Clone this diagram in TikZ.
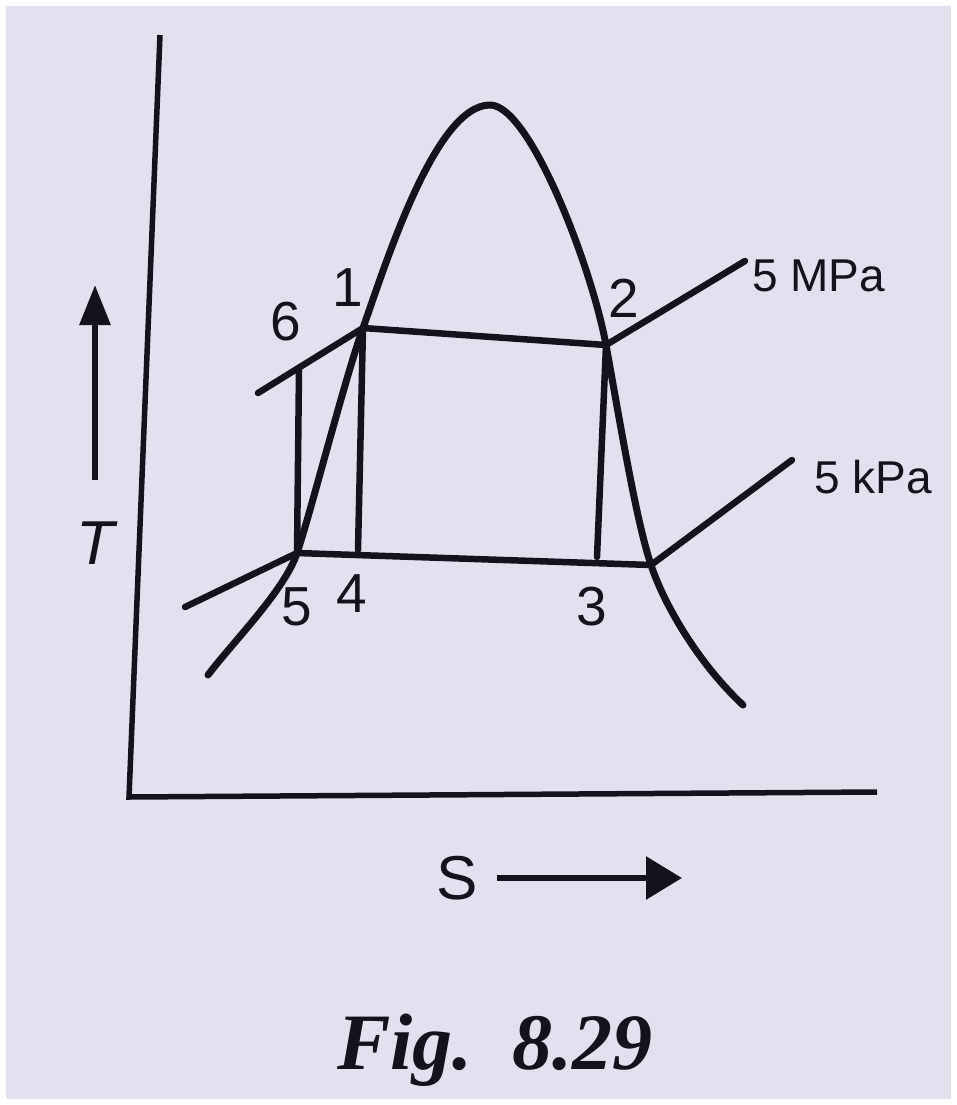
\documentclass[tikz,border=0pt]{standalone}
\usepackage{fontspec}
\setmainfont{Liberation Sans}
\newfontfamily\figfont{Liberation Serif}
\usetikzlibrary{arrows.meta}
\definecolor{paper}{RGB}{228,225,238}
\definecolor{ink}{RGB}{22,18,28}
\begin{document}
\begin{tikzpicture}[x=1pt,y=-1pt,line join=round,line cap=round,
  curve/.style={ink,line width=7pt},
  axisline/.style={ink,line width=5.5pt,line cap=butt},
  proc/.style={ink,line width=6.5pt},
  num/.style={ink,inner sep=0pt,font=\fontsize{55}{55}\selectfont},
  plbl/.style={ink,inner sep=0pt,anchor=west,font=\fontsize{46}{46}\selectfont},
  axlbl/.style={ink,inner sep=0pt,font=\fontsize{62}{62}\selectfont},
  dirarrow/.style={ink,line width=6pt,line cap=butt}]
\useasboundingbox (0,0) rectangle (957,1105);
\fill[white] (0,0) rectangle (957,1105);
\fill[paper] (6,6) rectangle (951,1099);
% axes
\coordinate (ytop) at (160,35);
\coordinate (orig) at (129,797);
\coordinate (xend) at (877,792);
\draw[axisline,line join=miter] (ytop) -- (orig) -- (xend);
% state points
\coordinate (p1) at (363,328);
\coordinate (p2) at (606,345);
\coordinate (p3) at (597,557);
\coordinate (p4) at (358,550);
\coordinate (p5) at (297,553);
\coordinate (p6) at (299,370);
\coordinate (hpL) at (258,393);
\coordinate (lpR) at (651,565);
\coordinate (lpL) at (185,607);
\coordinate (hpEnd) at (745,261);
\coordinate (lpEnd) at (792,460);
\coordinate (domeL) at (208,675);
\coordinate (domeTop) at (490,105);
\coordinate (domeR) at (743,705);
% saturation dome
\draw[curve] (domeL) .. controls (232,643) and (285,590) .. (p5)
  .. controls (310,515) and (345,378) .. (p1)
  .. controls (385,266) and (435,105) .. (domeTop)
  .. controls (530,105) and (592,268) .. (p2)
  .. controls (620,422) and (636,520) .. (lpR)
  .. controls (665,607) and (700,665) .. (domeR);
% isobars
\draw[proc] (hpL) -- (p1) -- (p2) -- (hpEnd);
\draw[proc] (lpL) -- (p5) -- (lpR) -- (lpEnd);
% process lines
\draw[proc] (p6) -- (p5);
\draw[proc] (p1) -- (p4);
\draw[proc] (p2) -- (p3);
% labels
\node[num] (n6) at (286,322) {6};
\node[num] (n1) at (348,288) {1};
\node[num] (n2) at (624,298) {2};
\node[num] (n5) at (297,607) {5};
\node[num] (n4) at (352,594) {4};
\node[num] (n3) at (592,607) {3};
\node[plbl] (mpa) at (752,276) {5 MPa};
\node[plbl] (kpa) at (814,477) {5 kPa};
% axis direction labels
\node[axlbl] (T) at (95,543) {\itshape T};
\coordinate (tb) at (95,480);
\coordinate (tt) at (95,285);
\draw[dirarrow,-{Triangle[length=40pt,width=30pt]}] (tb) -- (tt);
\node[axlbl] (S) at (457,878) {S};
\coordinate (sb) at (497,878);
\coordinate (se) at (682,878);
\draw[dirarrow,-{Triangle[length=36pt,width=42pt]}] (sb) -- (se);
% caption
\node[ink,inner sep=0pt,font=\figfont\bfseries\itshape\fontsize{80}{80}\selectfont] (cap) at (495,1050) {Fig.\ \ 8.29};
\end{tikzpicture}
\end{document}
